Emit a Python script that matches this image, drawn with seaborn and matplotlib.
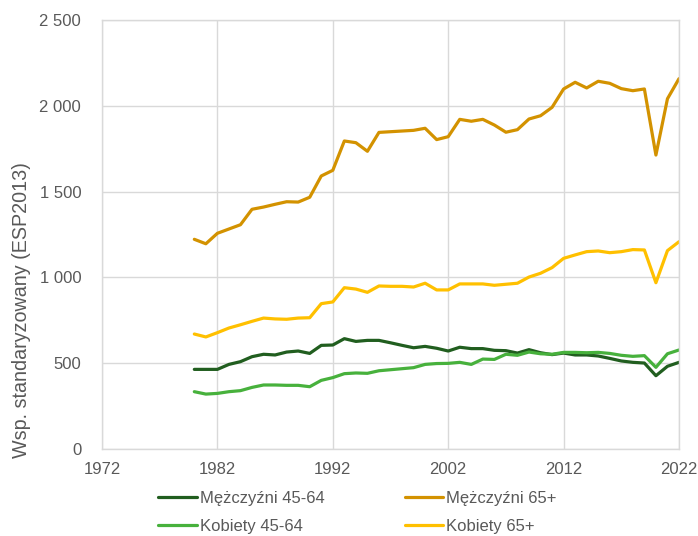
import numpy as np
import pandas as pd
import matplotlib
matplotlib.use("Agg")
import matplotlib.pyplot as plt
from matplotlib.ticker import FuncFormatter
from matplotlib.lines import Line2D
import seaborn as sns

years = list(range(1980, 2023))

men_45_64 = [464, 464, 464, 493, 509, 538, 552, 548, 565, 571, 557, 604, 606, 643, 627, 633,
             633, 619, 604, 590, 598, 587, 571, 593, 585, 585, 575, 573, 559, 579, 561, 550,
             559, 548, 548, 542, 528, 513, 505, 501, 427, 482, 505]
men_65 = [1222, 1196, 1257, 1282, 1307, 1397, 1410, 1426, 1441, 1439, 1467, 1591, 1624, 1795,
          1785, 1735, 1845, 1849, 1853, 1857, 1869, 1803, 1820, 1921, 1910, 1921, 1888, 1846,
          1861, 1923, 1942, 1991, 2098, 2137, 2104, 2143, 2131, 2100, 2088, 2098, 1713, 2041, 2158]
women_45_64 = [334, 320, 324, 334, 340, 359, 373, 373, 371, 371, 363, 400, 416, 439, 443, 441,
               456, 462, 468, 474, 493, 498, 499, 505, 493, 524, 522, 552, 546, 565, 555, 552,
               563, 563, 561, 563, 557, 546, 540, 544, 476, 555, 577]
women_65 = [670, 653, 678, 705, 724, 744, 763, 758, 756, 763, 765, 847, 857, 940, 932, 913,
            950, 948, 948, 944, 966, 927, 927, 962, 962, 962, 954, 960, 966, 1002, 1024, 1057,
            1111, 1131, 1150, 1154, 1144, 1150, 1162, 1160, 969, 1156, 1208]

series_names = ["Mężczyźni 45-64", "Mężczyźni 65+", "Kobiety 45-64", "Kobiety 65+"]
colors = ["#215E1F", "#D39200", "#47B13C", "#FFC000"]
x_ticks = [1972, 1982, 1992, 2002, 2012, 2022]
y_ticks = [0, 500, 1000, 1500, 2000, 2500]
y_label = "Wsp. standaryzowany (ESP2013)"

df = pd.DataFrame({
    "year": years * 4,
    "value": men_45_64 + men_65 + women_45_64 + women_65,
    "series": sum([[n] * len(years) for n in series_names], []),
})

sns.set_theme(style="white")
plt.rcParams["font.family"] = ["Liberation Sans", "DejaVu Sans"]

fig = plt.figure(figsize=(6.98, 5.36), dpi=100)
ax = fig.add_axes([102 / 698, 1 - 449 / 536, (679 - 102) / 698, (449 - 20) / 536])

palette = dict(zip(series_names, colors))
sns.lineplot(data=df, x="year", y="value", hue="series", palette=palette,
             hue_order=series_names, linewidth=2.3, ax=ax, legend=False)

ax.set_xlim(1972, 2022)
ax.set_ylim(0, 2500)
ax.set_xticks(x_ticks)
ax.set_yticks(y_ticks)
ax.yaxis.set_major_formatter(FuncFormatter(lambda v, p: f"{v:,.0f}".replace(",", " ")))
ax.grid(True, color="#D9D9D9", linewidth=1.0)
ax.set_axisbelow(True)
for s in ax.spines.values():
    s.set_visible(True)
    s.set_color("#D9D9D9")
    s.set_linewidth(1.0)
ax.tick_params(axis="both", length=0, labelsize=12, labelcolor="#595959")
ax.tick_params(axis="y", pad=15)
ax.tick_params(axis="x", pad=9)
ax.set_xlabel("")
ax.set_ylabel("")
fig.text(22 / 698, 1 - 310 / 536, y_label, rotation=90, ha="center", va="center",
         fontsize=14.2, color="#595959")

handles = [Line2D([0], [0], color=c, linewidth=2.3) for c in colors]
order = [0, 2, 1, 3]
fig.legend([handles[i] for i in order], [series_names[i] for i in order],
           ncol=2, loc="center left", bbox_to_anchor=(0.215, 0.044),
           frameon=False, fontsize=12, labelcolor="#595959",
           handlelength=2.3, handletextpad=0.2, columnspacing=4.8,
           labelspacing=0.75, borderpad=0.0)

fig.savefig("out.png", dpi=100)
